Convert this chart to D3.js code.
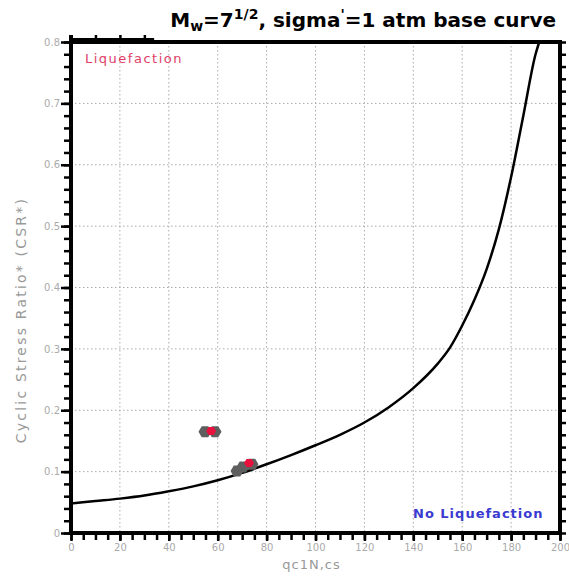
<!DOCTYPE html>
<html>
<head>
<meta charset="utf-8">
<script src="https://cdn.jsdelivr.net/npm/d3@7"></script>
<style>
  body { margin: 0; background: #fff; overflow: hidden; }
  svg { display: block; }
  .tick text { fill: #aaa; font-family: "DejaVu Sans", sans-serif; font-size: 10px; }
</style>
</head>
<body>
<div id="graphic"></div>
<script>
// base curve
const curveQ   = [0, 10, 20, 30, 40, 50, 60, 70, 80, 90, 100, 110, 120, 130, 140, 150, 155, 160, 165, 170, 175, 180, 185, 190, 191.5];
const curveCSR = [0.048, 0.052, 0.056, 0.061, 0.068, 0.076, 0.086, 0.098, 0.112, 0.127, 0.143, 0.160, 0.180, 0.205, 0.236, 0.276, 0.302, 0.338, 0.38, 0.43, 0.495, 0.58, 0.68, 0.78, 0.80];

// measured points
const grayQ   = [54.8, 58.9, 67.9, 70.3, 74.0];
const grayCSR = [0.165, 0.165, 0.101, 0.1075, 0.112];
const redQ    = [57.3, 72.8];
const redCSR  = [0.166, 0.114];

const xTicks = [0, 20, 40, 60, 80, 100, 120, 140, 160, 180, 200];
const yTicks = [0, 0.1, 0.2, 0.3, 0.4, 0.5, 0.6, 0.7, 0.8];
const topTicks = [10, 20, 30];

const W = 569, H = 578;
const margin = { left: 71, right: 560, top: 42, bottom: 533 };

const svg = d3.select("#graphic").append("svg")
  .attr("width", W)
  .attr("height", H);

const x = d3.scaleLinear().domain([0, 200]).range([margin.left, margin.right]);
const y = d3.scaleLinear().domain([0, 0.8]).range([margin.bottom, margin.top]);

// grid
svg.append("g")
  .selectAll("line")
  .data(xTicks.slice(1, -1))
  .enter().append("line")
  .attr("x1", d => x(d)).attr("x2", d => x(d))
  .attr("y1", margin.top).attr("y2", margin.bottom)
  .attr("stroke", "#aaa")
  .attr("stroke-dasharray", "1.5,2.5");

svg.append("g")
  .selectAll("line")
  .data(yTicks.slice(1, -1))
  .enter().append("line")
  .attr("y1", d => y(d)).attr("y2", d => y(d))
  .attr("x1", margin.left).attr("x2", margin.right)
  .attr("stroke", "#aaa")
  .attr("stroke-dasharray", "1.5,2.5");

// tick helper: black, thick
function blackTicks(g) {
  g.select(".domain").remove();
  g.selectAll(".tick line")
    .attr("stroke", "#000")
    .attr("stroke-width", 2.5);
}

// minor ticks
const minorX = d3.range(0, 201, 5);
const minorY = d3.range(0, 0.801, 0.02);

svg.append("g")
  .attr("transform", `translate(0,${margin.bottom})`)
  .call(d3.axisBottom(x).tickValues(minorX).tickSize(7).tickFormat(""))
  .call(blackTicks);

svg.append("g")
  .attr("transform", `translate(${margin.left},0)`)
  .call(d3.axisLeft(y).tickValues(minorY).tickSize(7).tickFormat(""))
  .call(blackTicks);

svg.append("g")
  .attr("transform", `translate(${margin.right},0)`)
  .call(d3.axisRight(y).tickValues(minorY).tickSize(6).tickFormat(""))
  .call(blackTicks);

svg.append("g")
  .attr("transform", `translate(0,${margin.top - 2})`)
  .call(d3.axisTop(x).tickValues(topTicks).tickSize(5).tickFormat(""))
  .call(blackTicks);

// major axes with labels
svg.append("g")
  .attr("transform", `translate(0,${margin.bottom})`)
  .call(d3.axisBottom(x).tickValues(xTicks).tickSize(8).tickPadding(3).tickFormat(d3.format("d")))
  .call(blackTicks);

svg.append("g")
  .attr("transform", `translate(${margin.left},0)`)
  .call(d3.axisLeft(y).tickValues(yTicks).tickSize(10).tickPadding(1).tickFormat(d => d === 0 ? "0" : d3.format(".1f")(d)))
  .call(blackTicks);

// curve
svg.append("clipPath").attr("id", "clip")
  .append("rect").attr("x", margin.left).attr("y", margin.top)
  .attr("width", margin.right - margin.left).attr("height", margin.bottom - margin.top);

const line = d3.line()
  .x((d, i) => x(curveQ[i]))
  .y((d, i) => y(curveCSR[i]))
  .curve(d3.curveMonotoneX);

svg.append("path")
  .datum(curveQ)
  .attr("d", line)
  .attr("clip-path", "url(#clip)")
  .attr("fill", "none")
  .attr("stroke", "#000")
  .attr("stroke-width", 2.5);

// markers
const hex = (w, h) => `M${-w},0L${-w/2},${-h}L${w/2},${-h}L${w},0L${w/2},${h}L${-w/2},${h}Z`;

svg.append("g")
  .selectAll("path")
  .data(grayQ)
  .enter().append("path")
  .attr("d", hex(6.5, 5.5))
  .attr("transform", (d, i) => `translate(${x(d)},${y(grayCSR[i])})`)
  .attr("fill", "#5e5e5e");

svg.append("g")
  .selectAll("path")
  .data(redQ)
  .enter().append("path")
  .attr("d", hex(5, 4))
  .attr("transform", (d, i) => `translate(${x(d)},${y(redCSR[i])})`)
  .attr("fill", "#e8103c");

// region labels
svg.append("text")
  .attr("x", 85).attr("y", 63)
  .attr("fill", "#e04068")
  .attr("font-family", "DejaVu Sans, sans-serif")
  .attr("font-size", 13)
  .attr("letter-spacing", 1.5)
  .text("Liquefaction");

svg.append("text")
  .attr("x", 413).attr("y", 518)
  .attr("fill", "#3a3ad0")
  .attr("font-family", "DejaVu Sans, sans-serif")
  .attr("font-size", 13)
  .attr("font-weight", "bold")
  .attr("letter-spacing", 1)
  .text("No Liquefaction");

// axis titles
svg.append("text")
  .attr("x", (margin.left + margin.right) / 2 - 4).attr("y", 569)
  .attr("text-anchor", "middle")
  .attr("fill", "#999")
  .attr("font-family", "DejaVu Sans, sans-serif")
  .attr("font-size", 13)
  .attr("letter-spacing", 1)
  .text("qc1N,cs");

svg.append("text")
  .attr("transform", "translate(26,320) rotate(-90)")
  .attr("text-anchor", "middle")
  .attr("fill", "#999")
  .attr("font-family", "DejaVu Sans, sans-serif")
  .attr("font-size", 14)
  .attr("letter-spacing", 2.2)
  .text("Cyclic Stress Ratio* (CSR*)");

// title
const title = svg.append("text")
  .attr("x", 556).attr("y", 27)
  .attr("text-anchor", "end")
  .attr("font-family", "DejaVu Sans, sans-serif")
  .attr("font-size", 20)
  .attr("font-weight", "bold")
  .attr("fill", "#000");
title.append("tspan").text("M");
title.append("tspan").attr("font-size", 14).attr("dy", 4).text("w");
title.append("tspan").attr("dy", -4).text("=7");
title.append("tspan").attr("font-size", 14).attr("dy", -8).text("1/2");
title.append("tspan").attr("dy", 8).text(", sigma");
title.append("tspan").attr("font-size", 14).attr("dy", -8).text("'");
title.append("tspan").attr("dy", 8).text("=1 atm base curve");

// frame as filled bars, drawn last
const t = 4;
const edges = [
  { x: x(0) - t / 2, y: y(0) - t / 2, w: x(200) - x(0) + t, h: t },
  { x: x(0) - t / 2, y: y(0.8) - t / 2, w: x(200) - x(0) + t, h: t },
  { x: x(0) - t / 2, y: y(0.8) - 7, w: t, h: y(0) - y(0.8) + 7 + t / 2 },
  { x: x(200) - t / 2, y: y(0.8) - t / 2, w: t, h: y(0) - y(0.8) + t }
];
svg.append("g")
  .selectAll("rect")
  .data(edges)
  .enter().append("rect")
  .attr("x", d => d.x).attr("y", d => d.y)
  .attr("width", d => d.w).attr("height", d => d.h)
  .attr("fill", "#000");

// thicker piece of top edge near origin
svg.append("rect")
  .attr("x", x(0)).attr("y", y(0.8) - 4)
  .attr("width", x(34) - x(0)).attr("height", 3)
  .attr("fill", "#000");
</script>
</body>
</html>
